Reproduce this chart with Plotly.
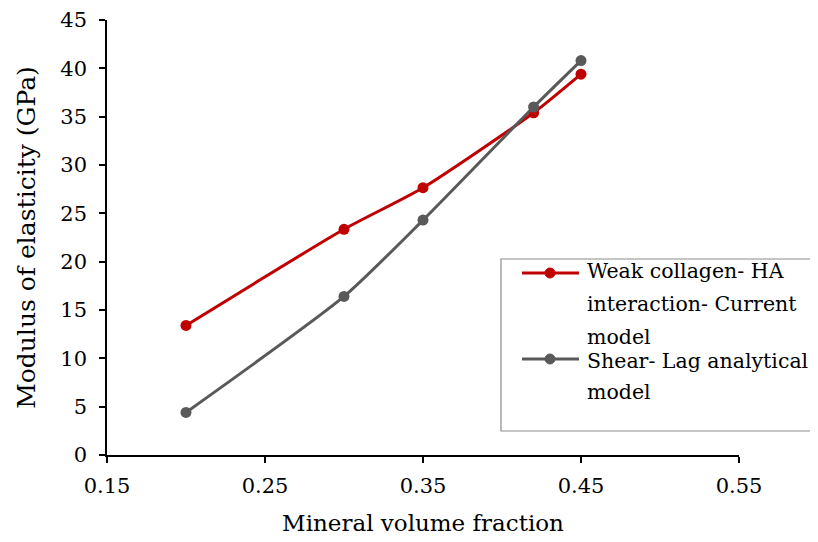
import plotly.graph_objects as go

x_vals = [0.20, 0.30, 0.35, 0.42, 0.45]
weak_collagen = [13.4, 23.35, 27.65, 35.4, 39.4]
shear_lag = [4.4, 16.4, 24.3, 36.0, 40.8]
x_ticks = [0.15, 0.25, 0.35, 0.45, 0.55]
y_ticks = [0, 5, 10, 15, 20, 25, 30, 35, 40, 45]
legend_lines = [
    ["Weak collagen- HA", "interaction- Current", "model"],
    ["Shear- Lag analytical", "model"],
]
RED = "#C00000"
GRAY = "#595959"
FONT = "DejaVu Serif"

fig = go.Figure()
fig.add_trace(go.Scatter(x=x_vals, y=weak_collagen, mode="lines+markers",
                         line=dict(color=RED, width=3, shape="spline", smoothing=0.6),
                         marker=dict(color=RED, size=11), showlegend=False))
fig.add_trace(go.Scatter(x=x_vals, y=shear_lag, mode="lines+markers",
                         line=dict(color=GRAY, width=3, shape="spline", smoothing=0.6),
                         marker=dict(color=GRAY, size=11), showlegend=False))

OFF = 8  # page body margin
W, H = 818 - OFF, 542 - OFF
L, T = 107 - OFF, 20 - OFF
PW, PH = 632, 435
R, B = W - L - PW, H - T - PH


def px(xp):
    return (xp - OFF - L) / PW


def py(yp):
    return (OFF + T + PH - yp) / PH


shapes = [
    dict(type="rect", xref="paper", yref="paper", x0=px(501), x1=px(840), y0=py(431), y1=py(259),
         line=dict(color="#8c8c8c", width=1.2), fillcolor="white", layer="above"),
]
annotations = []
legend_rows = [(273, RED, legend_lines[0], [271, 304, 337]), (359, GRAY, legend_lines[1], [361, 392])]
for yrow, col, lines, ys in legend_rows:
    shapes.append(dict(type="line", xref="paper", yref="paper", x0=px(522), x1=px(579),
                       y0=py(yrow), y1=py(yrow), line=dict(color=col, width=3), layer="above"))
    shapes.append(dict(type="circle", xref="paper", yref="paper", x0=px(545), x1=px(555),
                       y0=py(yrow + 5), y1=py(yrow - 5), line=dict(color=col, width=1),
                       fillcolor=col, layer="above"))
    for txt, yt in zip(lines, ys):
        annotations.append(dict(xref="paper", yref="paper", x=px(585), y=py(yt), xanchor="left",
                                yanchor="middle", align="left", showarrow=False, text=txt,
                                font=dict(family=FONT, size=20.5, color="black")))

fig.update_layout(
    width=W, height=H,
    margin=dict(l=L, r=R, t=T, b=B),
    paper_bgcolor="white", plot_bgcolor="white",
    font=dict(family=FONT, color="black"),
    shapes=shapes, annotations=annotations,
    xaxis=dict(range=[0.15, 0.55], tickvals=x_ticks, ticktext=[f"{v:.2f}" for v in x_ticks],
               showgrid=False, zeroline=False, showline=True, linecolor="black", linewidth=1.5,
               ticks="outside", ticklen=6, tickwidth=1.5, tickcolor="black",
               tickfont=dict(family=FONT, size=21), ticklabeloverflow="allow", ticklabelstandoff=5,
               title=dict(text="Mineral volume fraction", font=dict(family=FONT, size=23), standoff=18),
               automargin=False),
    yaxis=dict(range=[0, 45], tickvals=y_ticks, showgrid=False, zeroline=False, showline=True,
               linecolor="black", linewidth=1.5, ticks="outside", ticklen=6, tickwidth=1.5,
               tickcolor="black", tickfont=dict(family=FONT, size=21), ticklabeloverflow="allow",
               ticklabelstandoff=8,
               title=dict(text="Modulus of elasticity (GPa)", font=dict(family=FONT, size=25), standoff=18),
               automargin=False),
    xaxis2=dict(range=[0.15, 0.55], tickvals=x_ticks, overlaying="x", anchor="y", side="bottom",
                showgrid=False, zeroline=False, showline=False, showticklabels=False,
                ticks="inside", ticklen=5, tickwidth=1.5, tickcolor="black"),
    yaxis2=dict(range=[0, 45], tickvals=y_ticks, overlaying="y", anchor="x", side="left",
                showgrid=False, zeroline=False, showline=False, showticklabels=False,
                ticks="inside", ticklen=5, tickwidth=1.5, tickcolor="black"),
    showlegend=False,
)

fig.write_html("out.html")
